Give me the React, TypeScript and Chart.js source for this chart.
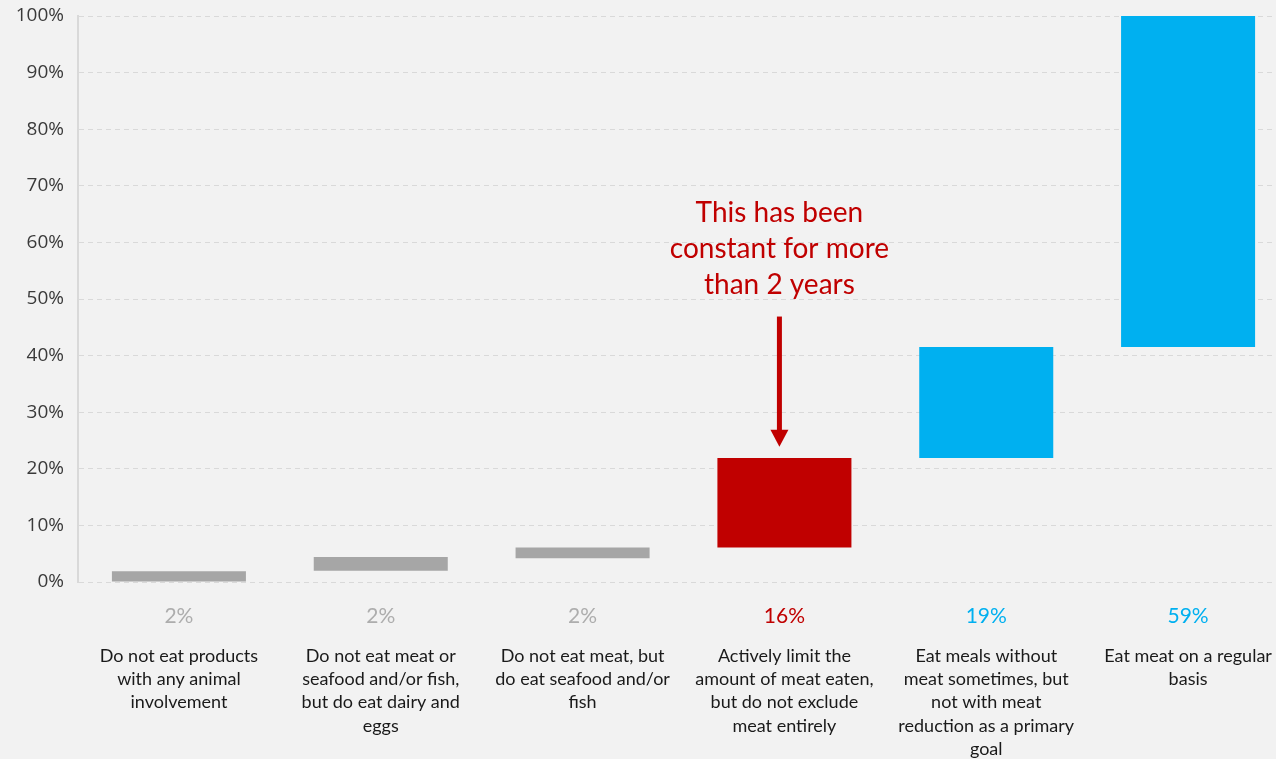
import React, { useEffect, useRef } from "react";
import { Chart, registerables } from "chart.js";

Chart.register(...registerables);

// ---- Data ----
const categoryLabels: string[][] = [
  ["Do not eat products", "with any animal", "involvement"],
  ["Do not eat meat or", "seafood and/or fish,", "but do eat dairy and", "eggs"],
  ["Do not eat meat, but", "do eat seafood and/or", "fish"],
  ["Actively limit the", "amount of meat eaten,", "but do not exclude", "meat entirely"],
  ["Eat meals without", "meat sometimes, but", "not with meat", "reduction as a primary", "goal"],
  ["Eat meat on a regular", "basis"],
];
const shareLabels = ["2%", "2%", "2%", "16%", "19%", "59%"];
const barLows = [0, 2.0, 4.2, 6.1, 21.9, 41.5];
const barHighs = [1.9, 4.4, 6.1, 21.9, 41.5, 100];
const barColors = ["#A6A6A6", "#A6A6A6", "#A6A6A6", "#C00000", "#00B0F0", "#00B0F0"];
const shareLabelColors = ["#ADADAD", "#ADADAD", "#ADADAD", "#C00000", "#00B0F0", "#00B0F0"];
const yTickValues = [0, 10, 20, 30, 40, 50, 60, 70, 80, 90, 100];

const annotationLines = ["This has been", "constant for more", "than 2 years"];
const annotationIndex = 3;
const annotationTextBaseline = 50.8; // % value of last text line baseline
const arrowFrom = 46.9;
const arrowTo = 23.9;

const RED = "#C00000";
const BG = "#F2F2F2";
const GRID = "#D9D9D9";
const LABEL_FONT = "Lato, 'Open Sans', sans-serif";

const backgroundPlugin = {
  id: "bgFill",
  beforeDraw(chart: any) {
    const { ctx, width, height } = chart;
    ctx.save();
    ctx.fillStyle = BG;
    ctx.fillRect(0, 0, width, height);
    ctx.restore();
  },
};

const annotationPlugin = {
  id: "noteArrow",
  afterDatasetsDraw(chart: any) {
    const { ctx } = chart;
    const x = chart.scales.x;
    const y = chart.scales.y;
    const cx = x.getPixelForValue(annotationIndex) - 5;
    ctx.save();
    ctx.fillStyle = RED;
    ctx.font = `28px ${LABEL_FONT}`;
    ctx.textAlign = "center";
    ctx.textBaseline = "alphabetic";
    const base = y.getPixelForValue(annotationTextBaseline);
    const lh = 36;
    annotationLines.forEach((line, i) => {
      ctx.fillText(line, cx, base - (annotationLines.length - 1 - i) * lh);
    });
    const y1 = y.getPixelForValue(arrowFrom);
    const y2 = y.getPixelForValue(arrowTo);
    const headLen = 17;
    const headHalf = 9;
    ctx.strokeStyle = RED;
    ctx.lineWidth = 5;
    ctx.beginPath();
    ctx.moveTo(cx, y1);
    ctx.lineTo(cx, y2 - headLen + 1);
    ctx.stroke();
    ctx.beginPath();
    ctx.moveTo(cx - headHalf, y2 - headLen);
    ctx.lineTo(cx + headHalf, y2 - headLen);
    ctx.lineTo(cx, y2);
    ctx.closePath();
    ctx.fill();
    ctx.restore();
  },
};

export default function App() {
  const canvasRef = useRef<HTMLCanvasElement | null>(null);

  useEffect(() => {
    document.body.style.margin = "0";
    document.body.style.overflow = "hidden";
    document.body.style.background = BG;
    const canvas = canvasRef.current;
    if (!canvas) return;
    const chart = new Chart(canvas, {
      type: "bar",
      data: {
        labels: shareLabels,
        datasets: [
          {
            data: barLows.map((lo, i) => [lo, barHighs[i]]) as any,
            backgroundColor: barColors,
            borderWidth: 0,
            barPercentage: 0.664,
            categoryPercentage: 1,
          },
        ],
      },
      options: {
        animation: false,
        responsive: true,
        maintainAspectRatio: false,
        events: [],
        layout: { padding: { top: 16, left: 0, right: 0, bottom: 0 } },
        plugins: {
          legend: { display: false },
          tooltip: { enabled: false },
          title: { display: false },
        },
        scales: {
          x: {
            type: "category",
            position: "bottom",
            weight: 1,
            grid: { display: false, drawTicks: false },
            border: { display: false },
            ticks: {
              maxRotation: 0,
              autoSkip: false,
              padding: 22,
              color: (ctx: any) => shareLabelColors[ctx.index],
              font: { family: LABEL_FONT, size: 21 },
            },
            afterFit: (scale: any) => {
              scale.height = 56;
            },
          },
          x2: {
            type: "category",
            position: "bottom",
            weight: 2,
            labels: categoryLabels as any,
            offset: true,
            grid: { display: false, drawTicks: false },
            border: { display: false },
            ticks: {
              maxRotation: 0,
              autoSkip: false,
              padding: 6,
              color: "#1A1A1A",
              font: { family: LABEL_FONT, size: 18, lineHeight: 1.3 },
            },
            afterFit: (scale: any) => {
              scale.height = 121;
            },
          },
          y: {
            min: 0,
            max: 100,
            grid: { color: GRID, lineWidth: 1, drawTicks: false },
            border: { display: true, color: GRID, width: 2, dash: [5, 4] },
            afterBuildTicks: (scale: any) => {
              scale.ticks = yTickValues.map((v) => ({ value: v }));
            },
            ticks: {
              padding: 14,
              color: "#3A3A3A",
              font: { family: "'Open Sans', sans-serif", size: 19 },
              callback: (v: any) => `${v}%`,
            },
            afterFit: (scale: any) => {
              scale.width = 78;
              scale.paddingTop = 0;
              scale.paddingBottom = 0;
            },
          },
        },
      },
      plugins: [backgroundPlugin, annotationPlugin],
    });
    return () => chart.destroy();
  }, []);

  return (
    <div style={{ width: 1289, height: 759, position: "relative" }}>
      <canvas ref={canvasRef} />
    </div>
  );
}
